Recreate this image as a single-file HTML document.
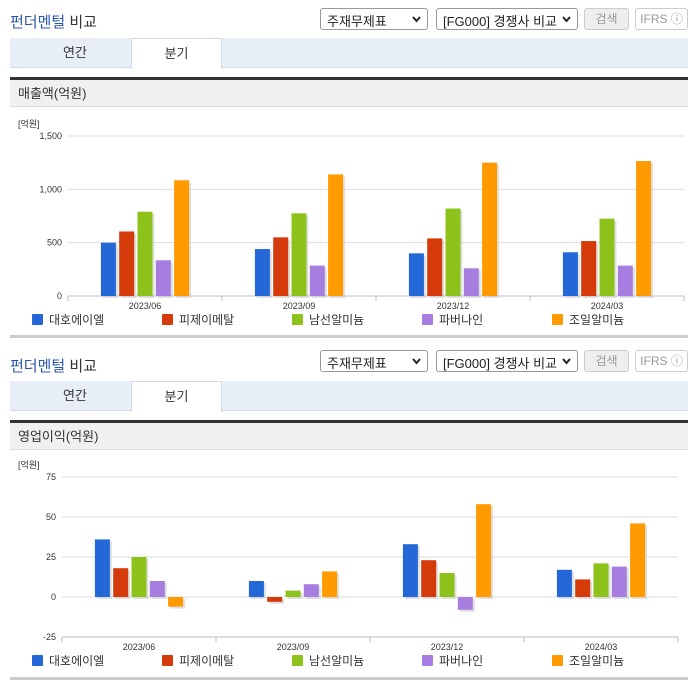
<!DOCTYPE html>
<html><head><meta charset="utf-8">
<style>
body{margin:0;width:696px;height:684px;background:#fff;font-family:"Liberation Sans","Noto Sans CJK KR",sans-serif;position:relative;overflow:hidden}
.abs{position:absolute}
.title{font-size:15px;color:#333}
.title b{font-weight:normal;color:#2a55b0}
.sel{border:1px solid #999;border-radius:3px;height:22px;box-sizing:border-box;font-size:13px;color:#222;padding:2px 6px;background:#fff}
.sel svg.ar{position:absolute;right:6px;top:7px}
.btn{border:1px solid #ccc;border-radius:3px;height:22px;box-sizing:border-box;font-size:12px;color:#999;text-align:center;line-height:20px}
.tabs{left:10px;width:678px;height:30px;background:#e8eef8;border-bottom:1px solid #d3dbe6;box-sizing:border-box}
.tab{font-size:13px;color:#333;text-align:center;line-height:30px;height:30px}
.hdr{left:10px;width:678px;height:30px;background:#f0f0f0;border-top:3px solid #333;box-sizing:border-box;font-size:13px;color:#333;line-height:28px;padding-left:8px;border-bottom:1px solid #ddd}
.bot{left:10px;width:678px;height:3px;background:#ccc}
</style></head><body>
<div class="abs" style="left:0;top:0;width:696px;height:342px">
  <div class="abs title" style="left:10px;top:11px"><b>펀더멘털</b> 비교</div>
  <div class="abs sel" style="left:320px;top:8px;width:108px">주재무제표<svg class="ar" width="9" height="7"><path d="M1 1 L4.5 5 L8 1" stroke="#222" stroke-width="2" fill="none"/></svg></div>
  <div class="abs sel" style="left:436px;top:8px;width:142px">[FG000] 경쟁사 비교<svg class="ar" width="9" height="7"><path d="M1 1 L4.5 5 L8 1" stroke="#222" stroke-width="2" fill="none"/></svg></div>
  <div class="abs btn" style="left:584px;top:8px;width:45px;background:#eee">검색</div>
  <div class="abs btn" style="left:635px;top:8px;width:53px">IFRS ⓘ</div>
  <div class="abs tabs" style="top:38px"></div>
  <div class="abs tab" style="left:30px;top:38px;width:90px">연간</div>
  <div class="abs tab" style="left:131px;top:38px;width:91px;background:#fff;border:1px solid #d3dbe6;border-bottom:none;box-sizing:border-box;height:31px">분기</div>
  <div class="abs hdr" style="top:77px">매출액(억원)</div>
  <svg class="abs" id="c1" style="left:0;top:110px" width="696" height="225"></svg>
  <div class="abs bot" style="top:335px"></div>
</div>
<div class="abs" style="left:0;top:342px;width:696px;height:342px">
  <div class="abs title" style="left:10px;top:13px"><b>펀더멘털</b> 비교</div>
  <div class="abs sel" style="left:320px;top:8px;width:108px">주재무제표<svg class="ar" width="9" height="7"><path d="M1 1 L4.5 5 L8 1" stroke="#222" stroke-width="2" fill="none"/></svg></div>
  <div class="abs sel" style="left:436px;top:8px;width:142px">[FG000] 경쟁사 비교<svg class="ar" width="9" height="7"><path d="M1 1 L4.5 5 L8 1" stroke="#222" stroke-width="2" fill="none"/></svg></div>
  <div class="abs btn" style="left:584px;top:8px;width:45px;background:#eee">검색</div>
  <div class="abs btn" style="left:635px;top:8px;width:53px">IFRS ⓘ</div>
  <div class="abs tabs" style="top:39px"></div>
  <div class="abs tab" style="left:30px;top:39px;width:90px">연간</div>
  <div class="abs tab" style="left:131px;top:39px;width:91px;background:#fff;border:1px solid #d3dbe6;border-bottom:none;box-sizing:border-box;height:31px">분기</div>
  <div class="abs hdr" style="top:78px">영업이익(억원)</div>
  <svg class="abs" id="c2" style="left:0;top:111px" width="696" height="225"></svg>
  <div class="abs bot" style="top:335px"></div>
</div>
<script>
const categories=["2023/06","2023/09","2023/12","2024/03"];
const seriesNames=["대호에이엘","피제이메탈","남선알미늄","파버나인","조일알미늄"];
const colors=["#2468d8","#d43a0a","#8cc21a","#a77ee0","#ff9a00"];
const revDaeho=[500,440,400,410];
const revPJ=[605,550,540,515];
const revNamsun=[790,775,820,725];
const revFaber=[335,285,260,285];
const revJoil=[1085,1140,1250,1265];
const revTicks=[0,500,1000,1500];
const opDaeho=[36,10,33,17];
const opPJ=[18,-3,23,11];
const opNamsun=[25,4,15,21];
const opFaber=[10,8,-8,19];
const opJoil=[-6,16,58,46];
const opTicks=[-25,0,25,50,75];
const NS="http://www.w3.org/2000/svg";
function mk(svg,tag,attrs,txt){const e=document.createElementNS(NS,tag);for(const k in attrs)e.setAttribute(k,attrs[k]);if(txt!==undefined)e.textContent=txt;svg.appendChild(e);return e;}
function draw(id,series,ticks,o){
  const svg=document.getElementById(id);
  const min=ticks[0],max=ticks[ticks.length-1];
  const y=v=>o.yBot-(v-min)/(max-min)*(o.yBot-o.yTop);
  const band=(o.x1-o.x0)/categories.length;
  const cx=i=>o.x0+band*(i+0.5);
  let t=mk(svg,'text',{x:18,y:o.yTop-9,'font-size':9,fill:'#333'},'[억원]');
  
  ticks.forEach(v=>{
    const g=mk(svg,'line',{x1:o.x0,x2:o.x1,y1:y(v),y2:y(v),stroke:v===min?'#bbc':'#ddd','stroke-width':1});
    
    const l=mk(svg,'text',{x:o.x0-6,y:y(v)+3,'font-size':9,fill:'#333','text-anchor':'end'},v.toLocaleString('en-US'));
    
  });
  for(let i=0;i<=categories.length;i++){
    const tk=mk(svg,'line',{x1:o.x0+band*i,x2:o.x0+band*i,y1:o.yBot,y2:o.yBot+5,stroke:'#bbc'});
    
  }
  categories.forEach((c,i)=>{
    const l=mk(svg,'text',{x:cx(i),y:o.yBot+13,'font-size':9,fill:'#333','text-anchor':'middle'},c);
    
    series.forEach((s,j)=>{
      const bw=15,st=18.3;
      const x=cx(i)+(j-2)*st-bw/2;
      const y0=y(0),yv=y(s[i]);
      const top=Math.min(y0,yv),h=Math.max(Math.abs(yv-y0),1);
      const sh=mk(svg,'rect',{x:x+2,y:top+2,width:bw,height:h,fill:'#ccc',opacity:0.6});
      
      const r=mk(svg,'rect',{x:x,y:top,width:bw,height:h,fill:colors[j]});
      
    });
  });
  seriesNames.forEach((n,j)=>{
    const lx=32+130*j;
    const r=mk(svg,'rect',{x:lx,y:o.legY-6,width:11,height:11,fill:colors[j],rx:1});
    
    const l=mk(svg,'text',{x:lx+17,y:o.legY+4,'font-size':12,fill:'#333'},n);
    
  });
}
draw('c1',[revDaeho,revPJ,revNamsun,revFaber,revJoil],revTicks,{x0:68,x1:684,yTop:26,yBot:186,legY:210});
draw('c2',[opDaeho,opPJ,opNamsun,opFaber,opJoil],opTicks,{x0:62,x1:678,yTop:24,yBot:184,legY:208});
</script>
</body></html>
